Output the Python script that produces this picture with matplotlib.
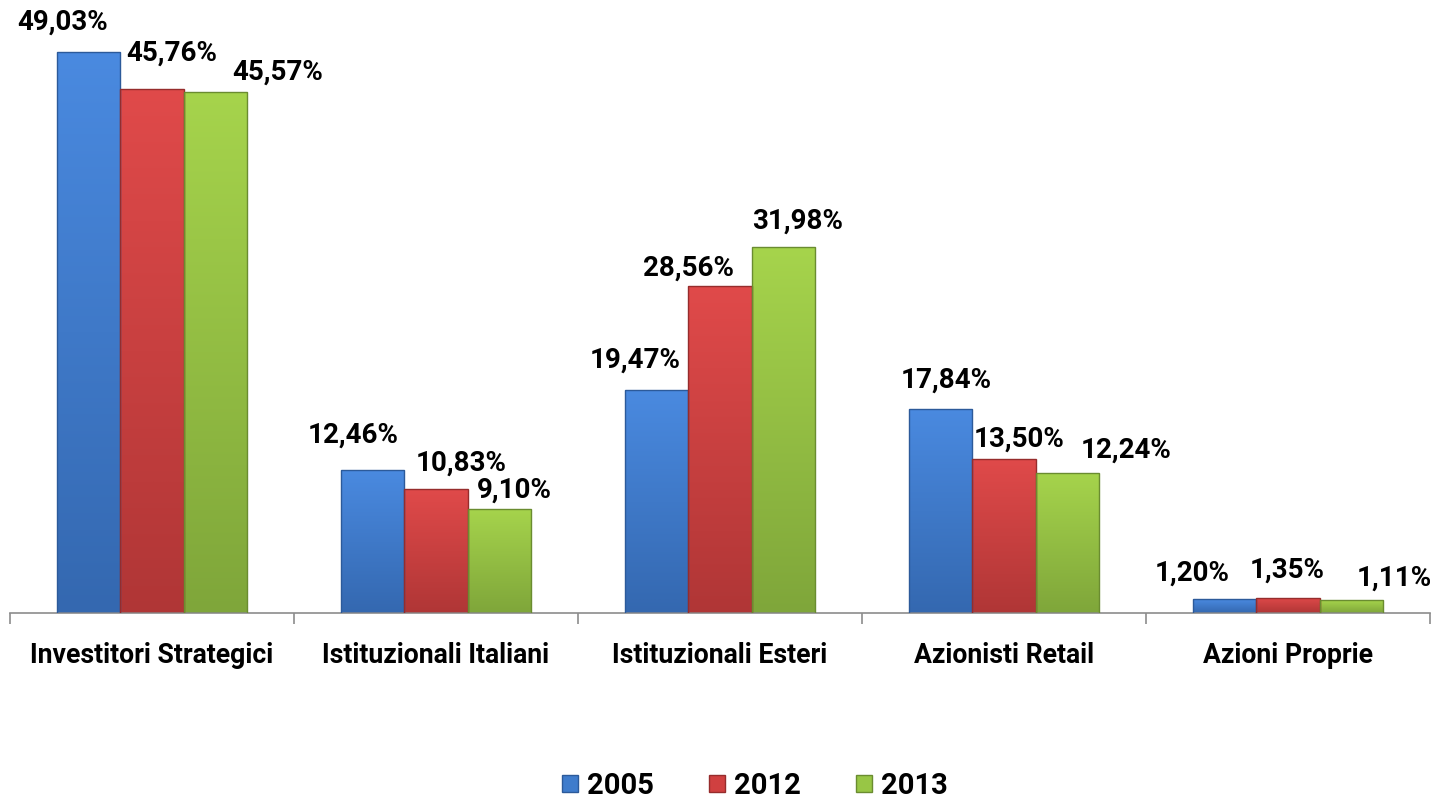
import matplotlib
matplotlib.use("Agg")
import matplotlib.pyplot as plt
import numpy as np
from matplotlib.patches import Rectangle, Patch
from matplotlib.colors import LinearSegmentedColormap

categories = ["Investitori Strategici", "Istituzionali Italiani", "Istituzionali Esteri",
              "Azionisti Retail", "Azioni Proprie"]
series_names = ["2005", "2012", "2013"]
values_2005 = [49.03, 12.46, 19.47, 17.84, 1.20]
values_2012 = [45.76, 10.83, 28.56, 13.50, 1.35]
values_2013 = [45.57, 9.10, 31.98, 12.24, 1.11]
labels_2005 = ["49,03%", "12,46%", "19,47%", "17,84%", "1,20%"]
labels_2012 = ["45,76%", "10,83%", "28,56%", "13,50%", "1,35%"]
labels_2013 = ["45,57%", "9,10%", "31,98%", "12,24%", "1,11%"]

series_values = [values_2005, values_2012, values_2013]
series_labels = [labels_2005, labels_2012, labels_2013]

# colours (top, bottom) for gradient
colors_top = ["#4a8ae0", "#e04a4a", "#a6d44c"]
colors_bot = ["#3468b0", "#b03636", "#7fa63a"]
edge_colors = ["#2c5a9a", "#962c2c", "#6a8c30"]
legend_colors = ["#3f7ccc", "#d04040", "#98c645"]

# label offsets in pixels (dx, dy) relative to bar top-centre
label_offsets = [
    [(-26, 30), (-19, 35), (-21, 30), (6, 29), (-32, 26)],
    [(20, 36), (25, 26), (-31, 18), (15, 19), (-1, 27)],
    [(62, 19), (15, 19), (14, 26), (59, 23), (43, 22)],
]

FONT = ["Roboto", "DejaVu Sans"]
plt.rcParams["font.family"] = FONT

fig = plt.figure(figsize=(14.41, 8.02), dpi=100)
ax = fig.add_axes([10 / 1441, 1 - 613 / 802, 1420 / 1441, (613 - 18) / 802])

n = len(categories)
width = 0.224
x = np.arange(n)
ax.set_xlim(-0.5, n - 0.5)
ax.set_ylim(0, 52)

for s, vals in enumerate(series_values):
    cmap = LinearSegmentedColormap.from_list("g%d" % s, [colors_bot[s], colors_top[s]])
    for i, v in enumerate(vals):
        xc = x[i] + (s - 1) * width
        x0 = xc - width / 2
        grad = np.linspace(0, 1, 256).reshape(-1, 1)
        im = ax.imshow(grad, cmap=cmap, origin="lower", aspect="auto",
                       extent=[x0, x0 + width, 0, v], zorder=2, interpolation="bilinear")
        rect = Rectangle((x0, 0), width, v, facecolor="none", edgecolor=edge_colors[s],
                         linewidth=1.0, zorder=3)
        ax.add_patch(rect)
        im.set_clip_path(rect)
        dx, dy = label_offsets[s][i]
        ax.annotate(series_labels[s][i], xy=(xc, v), xytext=(dx, dy),
                    textcoords="offset pixels", ha="center", va="center",
                    fontsize=20, fontweight="bold", color="black", zorder=5)

ax.set_xlim(-0.5, n - 0.5)
ax.set_ylim(0, 52)

for side in ["top", "right", "left"]:
    ax.spines[side].set_visible(False)
ax.spines["bottom"].set_color("#8c8c8c")
ax.spines["bottom"].set_linewidth(1.2)
ax.set_yticks([])
ax.set_xticks(np.arange(-0.5, n, 1.0))
ax.set_xticklabels([])
ax.tick_params(axis="x", length=8, color="#8c8c8c", width=1.2, direction="out")
for i, c in enumerate(categories):
    ax.text(x[i], -3.75, c, ha="center", va="center", fontsize=19.2, fontweight="bold",
            transform=ax.transData, clip_on=False)

# legend
handles = [Patch(facecolor=legend_colors[k], edgecolor=edge_colors[k]) for k in range(3)]
leg = fig.legend(handles, series_names, loc="center", bbox_to_anchor=(755 / 1441, 1 - 786 / 802),
                 ncol=3, frameon=False, prop={"weight": "bold", "size": 21, "family": FONT},
                 handlelength=0.55, handleheight=0.55, handletextpad=0.3, columnspacing=1.9)

fig.savefig("out.png", dpi=100, facecolor="white")
